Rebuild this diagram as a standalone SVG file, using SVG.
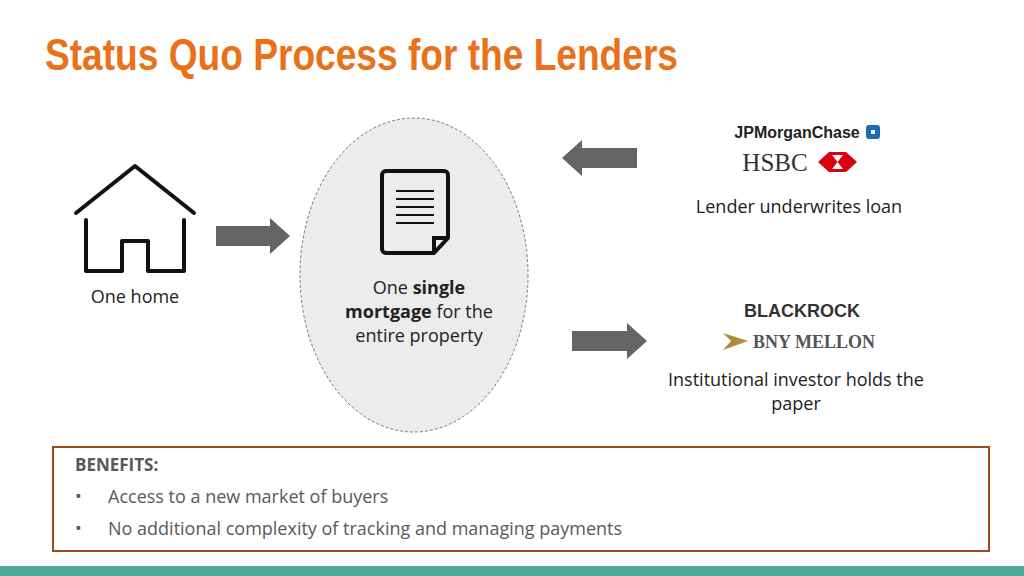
<svg xmlns="http://www.w3.org/2000/svg" width="1024" height="576" viewBox="0 0 1024 576">
<style>
.t{font-family:"Open Sans","Noto Sans",sans-serif;fill:#222;font-size:18px}
.b{font-weight:bold}
.arr{fill:#646464}
</style>
<rect width="1024" height="576" fill="#fff"/>
<text x="45" y="70" font-family="Liberation Sans Narrow, Liberation Sans, sans-serif" font-weight="bold" font-size="44" fill="#E8711A" textLength="633" lengthAdjust="spacingAndGlyphs">Status Quo Process for the Lenders</text>
<g id="home">
<g fill="none" stroke="#111" stroke-width="4" stroke-linecap="round" stroke-linejoin="round">
<polyline points="76,213 135,166 194,213"/>
<polyline points="86,220 86,271 122,271 122,241 148,241 148,271 184,271 184,220"/>
</g>
<text class="t" x="135" y="303" text-anchor="middle">One home</text>
</g>
<g id="mortgage">
<ellipse cx="414" cy="275" rx="114" ry="157" fill="#ececec" stroke="#777" stroke-width="1" stroke-dasharray="3,2"/>
<path d="M386,171 H444 a4,4 0 0 1 4,4 V238 L434,253 H386 a4,4 0 0 1 -4,-4 V175 a4,4 0 0 1 4,-4 Z" fill="none" stroke="#111" stroke-width="4" stroke-linejoin="round"/>
<path d="M448,238 H434 V253" fill="none" stroke="#111" stroke-width="4"/>
<g stroke="#111" stroke-width="2"><line x1="396" y1="191" x2="434" y2="191"/><line x1="396" y1="199" x2="434" y2="199"/><line x1="396" y1="207" x2="434" y2="207"/><line x1="396" y1="215" x2="434" y2="215"/><line x1="396" y1="223" x2="434" y2="223"/></g>
<text class="t" x="419" y="294" text-anchor="middle">One <tspan class="b">single</tspan></text>
<text class="t" x="419" y="318" text-anchor="middle"><tspan class="b">mortgage</tspan> for the</text>
<text class="t" x="419" y="342" text-anchor="middle">entire property</text>
</g>
<g id="lender">
<text x="797" y="138" text-anchor="middle" font-family="Liberation Sans,sans-serif" font-weight="bold" font-size="16" fill="#222">JPMorganChase</text>
<rect x="866" y="125" width="14" height="14" rx="3" fill="#1a6cb5"/><rect x="871" y="130" width="4" height="4" fill="#fff"/>
<text x="775" y="171" text-anchor="middle" font-family="Liberation Serif,serif" font-size="25" fill="#333">HSBC</text>
<polygon points="818,162 829,152 846,152 857,162 846,172 829,172" fill="#db0011"/>
<polygon points="832,155 843,155 837.5,162" fill="#fff"/><polygon points="832,169 843,169 837.5,162" fill="#fff"/>
<text class="t" x="799" y="213" text-anchor="middle">Lender underwrites loan</text>
</g>
<g id="investor">
<text x="802" y="317" text-anchor="middle" font-family="Liberation Sans,sans-serif" font-weight="bold" font-size="18" fill="#333">BLACKROCK</text>
<polygon points="723,333 748,341 723,350 731,341" fill="#b08a3e"/>
<text x="814" y="348" text-anchor="middle" font-family="Liberation Serif,serif" font-weight="bold" font-size="18" fill="#555">BNY MELLON</text>
<text class="t" x="796" y="386" text-anchor="middle">Institutional investor holds the</text>
<text class="t" x="796" y="410" text-anchor="middle">paper</text>
</g>
<g id="connectors">
<polygon class="arr" points="216,226 270,226 270,218 290,236 270,254 270,246 216,246"/>
<polygon class="arr" points="637,148 582,148 582,140 562,158 582,176 582,168 637,168"/>
<polygon class="arr" points="572,331 627,331 627,323 647,341 627,359 627,351 572,351"/>
</g>
<g id="benefits">
<rect x="53" y="447" width="936" height="104" fill="#fff" stroke="#9c4a1c" stroke-width="2"/>
<text x="75" y="471" font-family="Open Sans,sans-serif" font-weight="bold" font-size="17" fill="#595959">BENEFITS:</text>
<text x="75" y="503" font-family="Open Sans,sans-serif" font-size="18" fill="#595959">•</text>
<text x="108" y="503" font-family="Open Sans,sans-serif" font-size="18" fill="#595959">Access to a new market of buyers</text>
<text x="75" y="535" font-family="Open Sans,sans-serif" font-size="18" fill="#595959">•</text>
<text x="108" y="535" font-family="Open Sans,sans-serif" font-size="18" fill="#595959">No additional complexity of tracking and managing payments</text>
</g>
<rect x="0" y="566" width="1024" height="10" fill="#4aab9e"/>
</svg>
